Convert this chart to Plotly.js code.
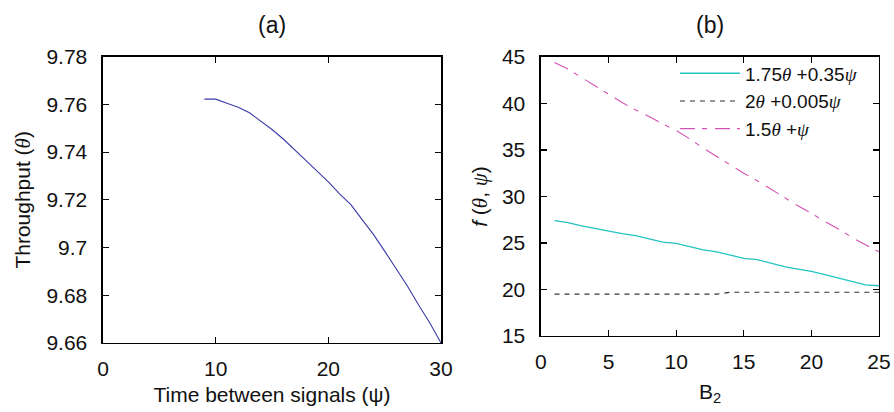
<!DOCTYPE html>
<html><head><meta charset="utf-8">
<script src="https://cdn.plot.ly/plotly-3.0.1.min.js"></script>
<style>html,body{margin:0;padding:0;background:#fff}#c{width:894px;height:412px}</style>
</head><body><div id="c"></div>
<script>
// Panel (a)
const psi = [9,10,11,12,13,14,15,16,17,18,19,20,21,22,23,24,25,26,27,28,29,30];
const throughput = [9.7622,9.7622,9.7605,9.7588,9.7565,9.7530,9.7495,9.7455,9.7412,9.7365,9.7320,9.7275,9.7225,9.7180,9.7117,9.7055,9.6985,9.6915,9.6840,9.6760,9.6685,9.6600];
// Panel (b)
const B2 = [1,2,3,4,5,6,7,8,9,10,11,12,13,14,15,16,17,18,19,20,21,22,23,24,25];
const f1 = [27.4,27.2,26.85,26.55,26.3,26.0,25.8,25.45,25.1,24.95,24.6,24.25,24.05,23.7,23.35,23.2,22.8,22.45,22.2,21.95,21.6,21.25,20.85,20.5,20.4];
const f2 = [19.5,19.5,19.5,19.5,19.5,19.5,19.5,19.5,19.5,19.5,19.5,19.5,19.5,19.7,19.7,19.7,19.7,19.7,19.7,19.7,19.7,19.7,19.7,19.7,19.7];
const f3 = [44.4,43.7,42.8,41.9,41.0,40.1,39.3,38.6,37.8,37.1,36.2,35.2,34.3,33.4,32.5,31.7,30.8,29.9,29.0,28.2,27.3,26.5,25.6,24.8,24.05];
const TH = '<span style="font-family:Liberation Serif;font-style:italic">θ</span>';
const PS = '<span style="font-family:Liberation Serif;font-style:italic">ψ</span>';
const names = ['1.75' + TH + ' +0.35' + PS, '2' + TH + ' +0.005' + PS, '1.5' + TH + ' +' + PS];
const xTicksA = [0,10,20,30];
const yTicksA = [9.66,9.68,9.70,9.72,9.74,9.76,9.78];
const xTicksB = [0,5,10,15,20,25];
const yTicksB = [15,20,25,30,35,40,45];

const FONT = 'Liberation Sans, Arial, sans-serif';
const traces = [
  {x: psi, y: throughput, xaxis:'x', yaxis:'y', mode:'lines', line:{color:'#3a3aa8', width:1.1}, showlegend:false},
  {x: B2, y: f1, xaxis:'x2', yaxis:'y2', mode:'lines', name:names[0], line:{color:'#22c4c0', width:1.3}},
  {x: B2, y: f2, xaxis:'x2', yaxis:'y2', mode:'lines', name:names[1], line:{color:'#333333', width:1.1, dash:'5px,5px'}},
  {x: B2, y: f3, xaxis:'x2', yaxis:'y2', mode:'lines', name:names[2], line:{color:'#d452b4', width:1.1, dash:'15px,7px,5px,8px'}}
];
const ax = {showline:true, mirror:'ticks', linecolor:'#000', linewidth:1.5, ticks:'inside', ticklen:6, tickcolor:'#000', tickwidth:1.2, showgrid:false, zeroline:false, tickfont:{family:FONT, size:21, color:'#111'}};
const layout = {
  width:894, height:412, margin:{l:0,r:0,t:0,b:0},
  paper_bgcolor:'#fff', plot_bgcolor:'#fff',
  font:{family:FONT, color:'#111'},
  xaxis: Object.assign({}, ax, {domain:[0.1152,0.4933], range:[0,30], tickvals:xTicksA, anchor:'y', ticklabelstandoff:6,
    title:{text:'Time between signals (ψ)', font:{family:FONT,size:21}, standoff:8}}),
  yaxis: Object.assign({}, ax, {domain:[0.1675,0.8624], range:[9.66,9.78], tickvals:yTicksA, ticktext:yTicksA.map(v=>String(+v.toFixed(2))), anchor:'x', ticklabelstandoff:10,
    title:{text:'Throughput (' + TH + ')', font:{family:FONT,size:21}, standoff:10}}),
  xaxis2: Object.assign({}, ax, {domain:[0.6051,0.9832], range:[0,25], tickvals:xTicksB, anchor:'y2', ticklabelstandoff:6,
    title:{text:'B<sub>2</sub>', font:{family:FONT,size:21}, standoff:12}}),
  yaxis2: Object.assign({}, ax, {domain:[0.1845,0.8617], range:[15,45], tickvals:yTicksB, anchor:'x2', ticklabelstandoff:10,
    title:{text:'<i>f</i> (' + TH + ', ' + PS + ')', font:{family:FONT,size:21}, standoff:8}}),
  legend:{x:0.755, y:0.868, xanchor:'left', yanchor:'top', bgcolor:'rgba(0,0,0,0)', font:{family:FONT,size:19,color:'#111'}, tracegroupgap:0, itemwidth:60},
  annotations:[
    {text:'(a)', xref:'paper', yref:'paper', x:(0.1152+0.4933)/2, y:1-25/412, xanchor:'center', yanchor:'middle', showarrow:false, font:{family:FONT,size:23}},
    {text:'(b)', xref:'paper', yref:'paper', x:(0.6051+0.9832)/2, y:1-25/412, xanchor:'center', yanchor:'middle', showarrow:false, font:{family:FONT,size:23}}
  ]
};
Plotly.newPlot('c', traces, layout, {displayModeBar:false, staticPlot:true});
</script></body></html>
